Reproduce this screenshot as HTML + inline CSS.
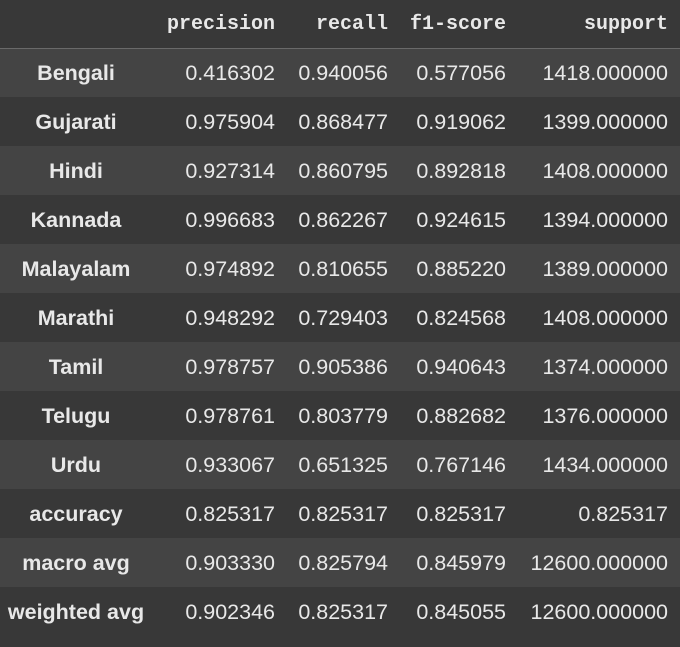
<!DOCTYPE html>
<html><head><meta charset="utf-8"><style>
html,body{margin:0;padding:0;background:#383838;width:680px;height:647px;overflow:hidden}
table{border-collapse:collapse;color:#e8e8e8;font-family:"Liberation Sans",sans-serif;font-size:21.5px;width:680px;table-layout:fixed}
td,th{height:49px;padding:0;box-sizing:border-box}
thead th{font-family:"Liberation Mono",monospace;font-size:20px;font-weight:bold;text-align:right;height:48px;padding-top:2px;border-bottom:1px solid #6a6a6a}
tbody tr:nth-child(odd){background:#444444}
tbody tr:nth-child(even){background:#383838}
th.idx{text-align:center;font-weight:bold;width:152px}
td{text-align:right;padding-top:1px}
.c1{width:123px}.c2{width:113px}.c3{width:118px}.c4{width:174px;padding-right:12px}
</style></head><body>
<table>
<thead><tr>
<th class="idx"></th>
<th class="c1">precision</th>
<th class="c2">recall</th>
<th class="c3">f1-score</th>
<th class="c4">support</th>
</tr></thead>
<tbody id="tb"></tbody>
</table>
<script>
const labels=["Bengali","Gujarati","Hindi","Kannada","Malayalam","Marathi","Tamil","Telugu","Urdu","accuracy","macro avg","weighted avg"];
const precision=["0.416302","0.975904","0.927314","0.996683","0.974892","0.948292","0.978757","0.978761","0.933067","0.825317","0.903330","0.902346"];
const recall=["0.940056","0.868477","0.860795","0.862267","0.810655","0.729403","0.905386","0.803779","0.651325","0.825317","0.825794","0.825317"];
const f1=["0.577056","0.919062","0.892818","0.924615","0.885220","0.824568","0.940643","0.882682","0.767146","0.825317","0.845979","0.845055"];
const support=["1418.000000","1399.000000","1408.000000","1394.000000","1389.000000","1408.000000","1374.000000","1376.000000","1434.000000","0.825317","12600.000000","12600.000000"];
const tb=document.getElementById('tb');
labels.forEach((l,i)=>{
  const tr=document.createElement('tr');
  
  
  const th=document.createElement('th');th.className='idx';th.textContent=l;th.style.paddingTop='1px';
  
  
  tr.appendChild(th);
  [precision,recall,f1,support].forEach((arr,j)=>{
    const td=document.createElement('td');td.className='c'+(j+1);td.textContent=arr[i];
    
    
    tr.appendChild(td);
  });
  tb.appendChild(tr);
});
</script>
</body></html>
